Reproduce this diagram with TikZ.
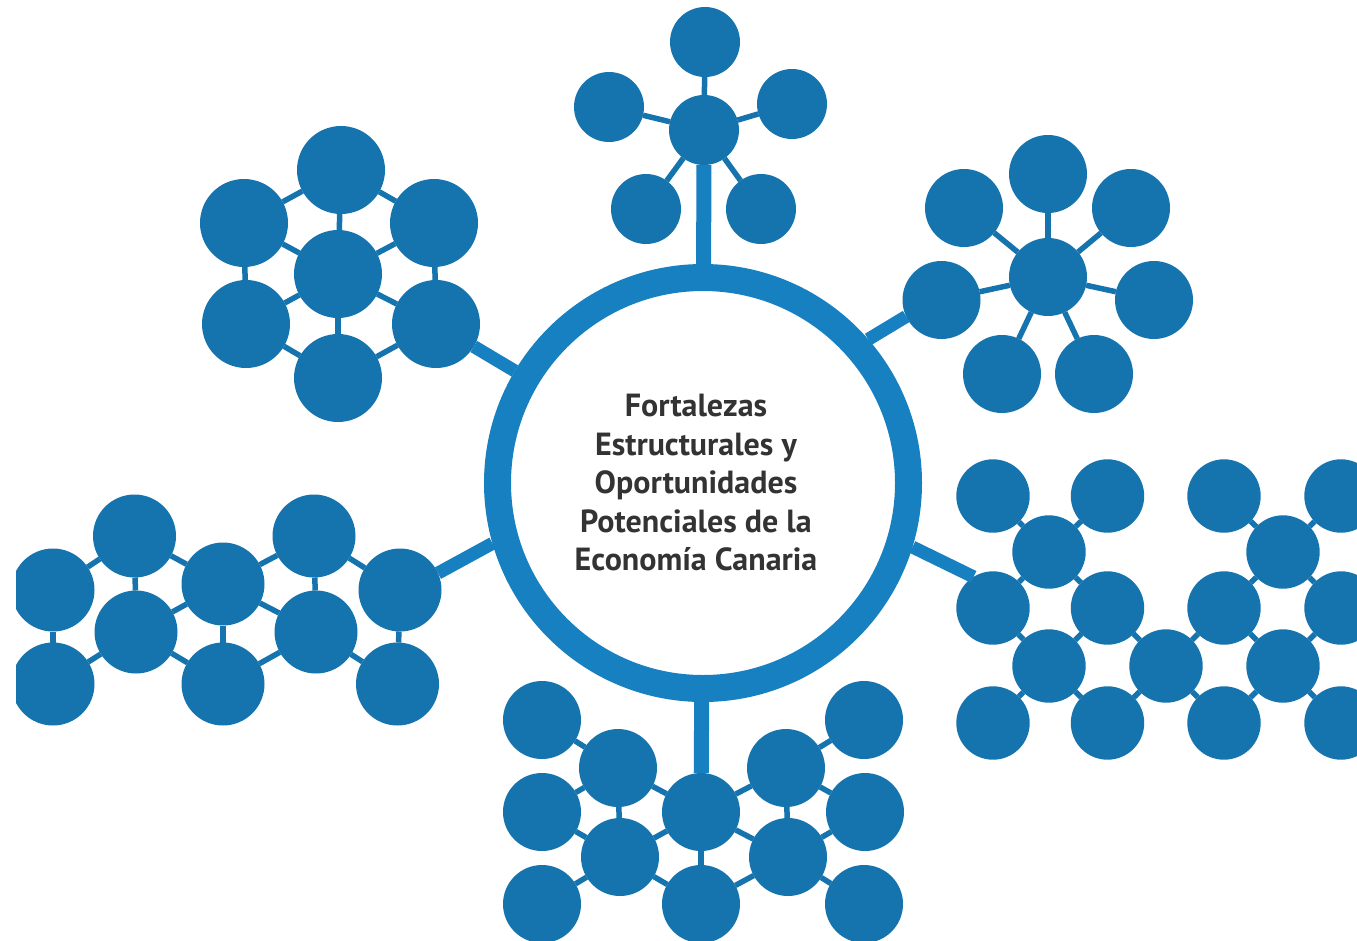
\documentclass[tikz,border=0pt]{standalone}
\usepackage{fontspec}
\setmainfont{PT Sans}
\definecolor{nodeblue}{RGB}{21,116,174}
\definecolor{ringblue}{RGB}{23,128,193}
\definecolor{txt}{RGB}{51,51,51}
\tikzset{
  x=1pt,y=-1pt,
  nd/.style={circle,fill=nodeblue,draw=none,inner sep=0pt,outer sep=0pt,minimum size=#1},
  thin link/.style={draw=nodeblue,line width=5.5pt},
  stem/.style={draw=ringblue,line width=15pt},
  arm/.style={draw=ringblue,line width=13pt},
}
\begin{document}
\begin{tikzpicture}
\useasboundingbox (0,0) rectangle (1357,940);
\fill[white] (0,0) rectangle (1357,940);
\begin{scope}
\clip (16,0) rectangle (1357,940);
% hub
\node[circle,draw=ringblue,line width=27pt,fill=white,minimum size=411pt,inner sep=0pt] (hub) at (703,483) {};
\node[font=\bfseries\fontsize{32}{38.5}\selectfont,text=txt,align=center] (title) at (696,483)
  {Fortalezas\\Estructurales y\\Oportunidades\\Potenciales de la\\Economía Canaria};

% top cluster
\node[nd=70pt] (tc) at (704,130) {};
\node[nd=70pt] (t1) at (705,42) {};
\node[nd=70pt] (t2) at (609,107) {};
\node[nd=70pt] (t3) at (792,104) {};
\node[nd=70pt] (t4) at (646,209) {};
\node[nd=70pt] (t5) at (761,209) {};
\foreach \n in {t1,t2,t3,t4,t5} \draw[thin link] (tc) -- (\n);
\draw[stem] (hub) -- (tc);

% top-left cluster
\node[nd=88pt] (a0) at (338,274) {};
\node[nd=88pt] (a1) at (341,170) {};
\node[nd=88pt] (a2) at (244,223) {};
\node[nd=88pt] (a3) at (434,223) {};
\node[nd=88pt] (a4) at (246,324) {};
\node[nd=88pt] (a5) at (436,324) {};
\node[nd=88pt] (a6) at (338,378) {};
\foreach \n in {a1,a2,a3,a4,a5,a6} \draw[thin link] (a0) -- (\n);
\draw[thin link] (a1) -- (a2);
\draw[thin link] (a2) -- (a4);
\draw[thin link] (a4) -- (a6);
\draw[thin link] (a6) -- (a5);
\draw[thin link] (a5) -- (a3);
\draw[thin link] (a3) -- (a1);
\draw[arm] (hub) -- (a5);

% top-right cluster
\node[nd=78pt] (b0) at (1048,277) {};
\node[nd=78pt] (b1) at (1048,174) {};
\node[nd=78pt] (b2) at (964,208) {};
\node[nd=78pt] (b3) at (1131,208) {};
\node[nd=78pt] (b4) at (941.5,300) {};
\node[nd=78pt] (b5) at (1154,300) {};
\node[nd=78pt] (b6) at (1002,374) {};
\node[nd=78pt] (b7) at (1094,374) {};
\foreach \n in {b1,b2,b3,b4,b5,b6,b7} \draw[thin link] (b0) -- (\n);
\draw[arm] (hub.41) -- (b4.205);

% left cluster
\node[nd=83pt] (cA) at (53,590) {};
\node[nd=83pt] (cB) at (53,684) {};
\node[nd=83pt] (cC) at (134.5,536) {};
\node[nd=83pt] (cD) at (136,632) {};
\node[nd=83pt] (cE) at (223,584) {};
\node[nd=83pt] (cF) at (223,684) {};
\node[nd=83pt] (cG) at (314,536) {};
\node[nd=83pt] (cH) at (316,632) {};
\node[nd=83pt] (cI) at (400,590) {};
\node[nd=83pt] (cJ) at (397.5,684) {};
\draw[thin link] (cA) -- (cC);
\draw[thin link] (cA) -- (cB);
\draw[thin link] (cB) -- (cD);
\draw[thin link] (cC) -- (cD);
\draw[thin link] (cC) -- (cE);
\draw[thin link] (cD) -- (cE);
\draw[thin link] (cD) -- (cF);
\draw[thin link] (cE) -- (cF);
\draw[thin link] (cE) -- (cG);
\draw[thin link] (cE) -- (cH);
\draw[thin link] (cG) -- (cH);
\draw[thin link] (cG) -- (cI);
\draw[thin link] (cH) -- (cJ);
\draw[thin link] (cH) -- (cF);
\draw[thin link] (cI) -- (cJ);
\draw[arm] (hub.196) -- (cI.24);

% right cluster
\foreach \nm/\xx/\yy in {r11/993/496,r12/1107.5/496,r13/1224/496,r14/1341/496,
  r21/1049/552,r22/1283/552,
  r31/993/608,r32/1107.5/608,r33/1224/608,r34/1341/608,
  r41/1049/666,r42/1166/666,r43/1283/666,
  r51/993/723,r52/1107.5/723,r53/1224/723,r54/1341/723}
  \node[nd=73.4pt] (\nm) at (\xx,\yy) {};
\foreach \n in {r11,r12,r31,r32} \draw[thin link] (r21) -- (\n);
\foreach \n in {r13,r14,r33,r34} \draw[thin link] (r22) -- (\n);
\foreach \n in {r31,r32,r51,r52} \draw[thin link] (r41) -- (\n);
\foreach \n in {r32,r33,r52,r53} \draw[thin link] (r42) -- (\n);
\foreach \n in {r33,r34,r53,r54} \draw[thin link] (r43) -- (\n);
\draw[arm] (hub.-17) -- (r31.122);

% bottom cluster
\node[nd=78pt] (L1) at (542,720) {};
\node[nd=78pt] (L2) at (542,812) {};
\node[nd=78pt] (L3) at (542,904) {};
\node[nd=78pt] (M1) at (618,768) {};
\node[nd=78pt] (M2) at (620,857) {};
\node[nd=78pt] (C1) at (701,812) {};
\node[nd=78pt] (C2) at (701,904) {};
\node[nd=78pt] (N1) at (786,768) {};
\node[nd=78pt] (N2) at (788,857) {};
\node[nd=78pt] (R1) at (864,720) {};
\node[nd=78pt] (R2) at (865,812) {};
\node[nd=78pt] (R3) at (864,904) {};
\draw[thin link] (L1) -- (M1);
\draw[thin link] (M1) -- (L2);
\draw[thin link] (M1) -- (C1);
\draw[thin link] (M1) -- (M2);
\draw[thin link] (L2) -- (M2);
\draw[thin link] (M2) -- (L3);
\draw[thin link] (M2) -- (C1);
\draw[thin link] (M2) -- (C2);
\draw[thin link] (C1) -- (C2);
\draw[thin link] (C1) -- (N1);
\draw[thin link] (C1) -- (N2);
\draw[thin link] (N1) -- (N2);
\draw[thin link] (N1) -- (R1);
\draw[thin link] (N1) -- (R2);
\draw[thin link] (N2) -- (R2);
\draw[thin link] (N2) -- (R3);
\draw[thin link] (N2) -- (C2);
\draw[stem] (hub) -- (C1);
\end{scope}
\end{tikzpicture}
\end{document}
